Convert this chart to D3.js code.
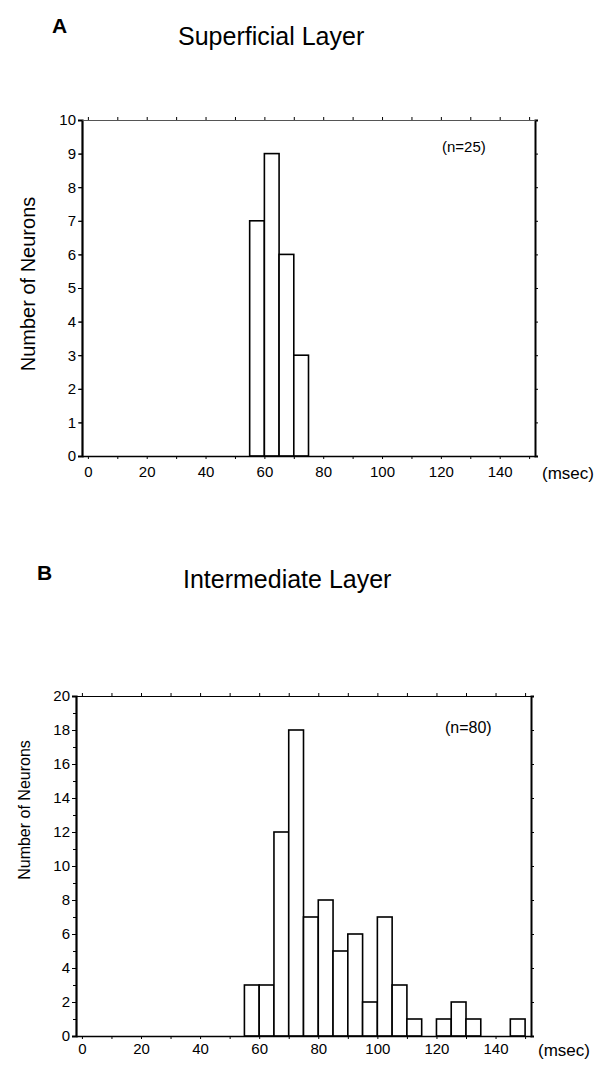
<!DOCTYPE html>
<html>
<head>
<meta charset="utf-8">
<script src="https://cdn.jsdelivr.net/npm/d3@7"></script>
<style>
  body { margin: 0; background: #fff; }
  svg { font-family: "Liberation Sans", Arial, sans-serif; }
</style>
</head>
<body>
<svg id="chart" width="616" height="1068"></svg>
<script>
// latency histograms, 5 ms bins
const binWidth = 5;

const superficialBins = [55, 60, 65, 70];
const superficialCounts = [7, 9, 6, 3];

const intermediateBins = [55, 60, 65, 70, 75, 80, 85, 90, 95, 100, 105, 110, 115, 120, 125, 130, 135, 140, 145];
const intermediateCounts = [3, 3, 12, 18, 7, 8, 5, 6, 2, 7, 3, 1, 0, 1, 2, 1, 0, 0, 1];

const xTickLabels = [0, 20, 40, 60, 80, 100, 120, 140];
const yTicksA = [0, 1, 2, 3, 4, 5, 6, 7, 8, 9, 10];
const yTicksB = [0, 2, 4, 6, 8, 10, 12, 14, 16, 18, 20];

const svg = d3.select("#chart");

function drawPanel(p) {
  const x = d3.scaleLinear([-2, 152], [p.left, p.right]);
  const y = d3.scaleLinear([0, p.yMax], [p.bottom, p.top]);
  const g = svg.append("g");

  // panel letter + title
  g.append("text").attr("x", p.letterX).attr("y", p.letterY)
    .attr("font-size", 21).attr("font-weight", "bold").text(p.letter);
  g.append("text").attr("x", p.titleX).attr("y", p.titleY)
    .attr("font-size", 25).text(p.title);

  // bars
  const bins = d3.zip(p.bins, p.counts).filter(d => d[1] > 0);
  g.append("g")
    .selectAll("rect")
    .data(bins)
    .join("rect")
      .attr("x", d => x(d[0]))
      .attr("width", d => x(d[0] + binWidth) - x(d[0]))
      .attr("y", d => y(d[1]))
      .attr("height", d => y(0) - y(d[1]))
      .attr("fill", "#fff")
      .attr("stroke", "#000")
      .attr("stroke-width", 1.6);

  // left axis
  g.append("g")
    .attr("transform", `translate(${p.left},0)`)
    .call(d3.axisLeft(y).tickValues(d3.range(0, p.yMax + 1, p.minorY)).tickSize(3).tickFormat(""))
    .call(a => a.select(".domain").remove());
  g.append("g")
    .attr("transform", `translate(${p.left},0)`)
    .call(d3.axisLeft(y).tickValues(p.yTicks).tickSize(4).tickPadding(2))
    .call(a => a.selectAll("text").attr("font-size", 15).attr("fill", "#000"))
    .call(a => a.select(".domain").attr("stroke-width", 2.2));

  // right axis
  g.append("g")
    .attr("transform", `translate(${p.right},0)`)
    .call(d3.axisRight(y).tickValues(p.yTicks).tickSize(3).tickFormat(""))
    .call(a => a.select(".domain").attr("stroke-width", 2));

  // top axis
  g.append("g")
    .attr("transform", `translate(0,${p.top})`)
    .call(d3.axisTop(x).tickValues(d3.range(0, 151, 10)).tickSize(3).tickFormat("").tickSizeOuter(0))
    .call(a => a.select(".domain").attr("stroke-width", 1.2).attr("stroke", p.topColor));

  // bottom axis
  g.append("g")
    .attr("transform", `translate(0,${p.bottom})`)
    .call(d3.axisBottom(x).tickValues(d3.range(0, 151, 10)).tickSize(3).tickFormat("").tickSizeOuter(0))
    .call(a => a.select(".domain").attr("stroke-width", 1.6));
  g.append("g")
    .attr("transform", `translate(0,${p.bottom})`)
    .call(d3.axisBottom(x).tickValues(xTickLabels).tickSize(0).tickPadding(p.xPad))
    .call(a => a.select(".domain").remove())
    .call(a => a.selectAll("text").attr("font-size", 15).attr("fill", "#000"));

  g.append("text").attr("x", p.right + 7).attr("y", p.bottom + p.xPad + 13)
    .attr("font-size", 17).text("(msec)");

  g.append("text").attr("x", p.nX).attr("y", p.nY)
    .attr("font-size", p.nSize).text(p.nLabel);

  g.append("text")
    .attr("transform", `translate(${p.yTitleX},${(p.top + p.bottom) / 2 + p.yTitleShift}) rotate(-90)`)
    .attr("text-anchor", "middle")
    .attr("font-size", p.yTitleSize)
    .text(p.yTitle);
}

drawPanel({
  letter: "A", letterX: 52, letterY: 33,
  title: "Superficial Layer", titleX: 178, titleY: 45,
  bins: superficialBins, counts: superficialCounts,
  yMax: 10, yTicks: yTicksA, minorY: 1,
  left: 82, right: 535, top: 120, bottom: 456,
  xPad: 10, topColor: "#555",
  nLabel: "(n=25)", nX: 442, nY: 152, nSize: 15,
  yTitle: "Number of Neurons", yTitleX: 35, yTitleSize: 20, yTitleShift: -4
});

drawPanel({
  letter: "B", letterX: 37, letterY: 580,
  title: "Intermediate Layer", titleX: 183, titleY: 588,
  bins: intermediateBins, counts: intermediateCounts,
  yMax: 20, yTicks: yTicksB, minorY: 1,
  left: 76, right: 531, top: 696, bottom: 1036,
  xPad: 7, topColor: "#000",
  nLabel: "(n=80)", nX: 445, nY: 733, nSize: 16,
  yTitle: "Number of  Neurons", yTitleX: 30, yTitleSize: 16, yTitleShift: -56
});
</script>
</body>
</html>
